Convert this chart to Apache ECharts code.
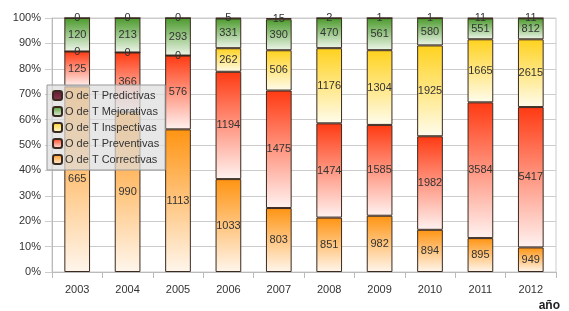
<!DOCTYPE html>
<html>
<head>
<meta charset="utf-8">
<script src="https://cdn.jsdelivr.net/npm/echarts@6/dist/echarts.min.js"></script>
<style>
  html, body { margin: 0; padding: 0; background: #fff; }
  #chart { width: 569px; height: 311px; }
</style>
</head>
<body>
<div id="chart"></div>
<script>
const years = ['2003', '2004', '2005', '2006', '2007', '2008', '2009', '2010', '2011', '2012'];
const correctivas = [665, 990, 1113, 1033, 803, 851, 982, 894, 895, 949];
const preventivas = [125, 366, 576, 1194, 1475, 1474, 1585, 1982, 3584, 5417];
const inspectivas = [0, 0, 0, 262, 506, 1176, 1304, 1925, 1665, 2615];
const mejorativas = [120, 213, 293, 331, 390, 470, 561, 580, 551, 812];
const predictivas = [0, 0, 0, 5, 15, 2, 1, 1, 11, 11];

const raw = [correctivas, preventivas, inspectivas, mejorativas, predictivas];
const names = ['O de T Correctivas', 'O de T Preventivas', 'O de T Inspectivas', 'O de T Mejorativas', 'O de T Predictivas'];
// colour at top of each segment, colour at bottom
const colors = [
  ['#ff9412', '#fff6ec'],
  ['#ff3a12', '#fff2f0'],
  ['#ffd21e', '#fffcec'],
  ['#4b9a2c', '#eef6ea'],
  ['#5e1830', '#8a3a50']
];

const totals = years.map((y, i) => raw.reduce((s, arr) => s + arr[i], 0));

const chart = echarts.init(document.getElementById('chart'));

const series = raw.map((arr, k) => ({
  name: names[k],
  type: 'bar',
  stack: 'total',
  barWidth: '51%',
  itemStyle: {
    borderColor: '#3a2a20',
    borderWidth: 1,
    color: new echarts.graphic.LinearGradient(0, 0, 0, 1, [
      { offset: 0, color: colors[k][0] },
      { offset: 1, color: colors[k][1] }
    ])
  },
  label: {
    show: true,
    position: 'inside',
    color: '#333',
    fontSize: 11,
    fontFamily: 'Liberation Sans',
    formatter: p => arr[p.dataIndex]
  },
  data: arr.map((v, i) => v / totals[i] * 100)
}));

chart.setOption({
  animation: false,
  textStyle: { fontFamily: 'Liberation Sans' },
  title: {
    text: 'año',
    right: 4,
    top: 295,
    textStyle: { fontSize: 12, fontWeight: 'bold', color: '#222', fontFamily: 'Liberation Sans' }
  },
  grid: {
    left: 52,
    right: 13,
    top: 18,
    bottom: 39,
    show: true,
    borderColor: '#ccc',
    borderWidth: 1
  },
  legend: {
    orient: 'vertical',
    left: 47,
    top: 85,
    itemWidth: 9,
    itemHeight: 9,
    itemGap: 5,
    padding: [5, 6, 5, 5],
    backgroundColor: 'rgba(222,222,222,0.72)',
    borderColor: '#999',
    borderWidth: 1,
    borderRadius: 0,
    textStyle: { fontSize: 11, color: '#333', padding: [0, 0, 0, -2] },
    data: names.slice().reverse()
  },
  xAxis: {
    type: 'category',
    data: years,
    axisLine: { lineStyle: { color: '#bbb' } },
    axisTick: { show: true, length: 6, lineStyle: { color: '#bbb' } },
    axisLabel: { color: '#333', fontSize: 11, margin: 12 }
  },
  yAxis: {
    type: 'value',
    min: 0,
    max: 100,
    interval: 10,
    axisLine: { show: true, lineStyle: { color: '#bbb' } },
    axisTick: { show: true, length: 7, lineStyle: { color: '#ccc' } },
    splitLine: { lineStyle: { color: '#ccc' } },
    axisLabel: { color: '#333', fontSize: 11, margin: 11, formatter: '{value}%' }
  },
  series: series
});
</script>
</body>
</html>
